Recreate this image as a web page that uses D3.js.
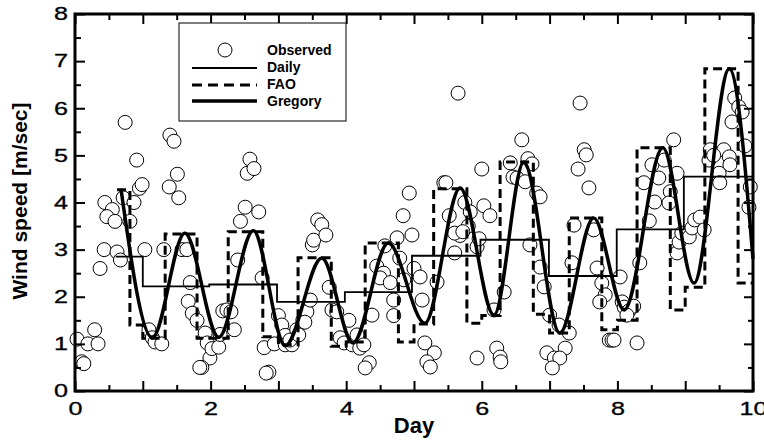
<!DOCTYPE html>
<html>
<head>
<meta charset="utf-8">
<script src="https://d3js.org/d3.v7.min.js"></script>
<style>
  body { margin: 0; background: #fff; }
  text { font-family: "Liberation Sans", Arial, sans-serif; }
</style>
</head>
<body>
<div id="graph"></div>
<script>
// Observed wind speed [day, m/sec]
var observed = [
  [0.03,1.10],[0.10,0.62],[0.13,0.58],[0.19,1.00],[0.29,1.30],[0.34,1.00],
  [0.37,2.60],[0.43,3.00],[0.62,2.95],[0.67,2.78],
  [0.44,4.00],[0.55,3.85],[0.47,3.70],[0.59,3.60],[0.71,4.10],[0.81,3.60],[0.87,4.00],[0.95,4.30],[0.99,4.38],[0.91,4.90],[0.74,5.70],
  [1.03,3.00],[1.31,3.00],[1.58,3.00],[1.65,3.00],[1.40,5.43],[1.46,5.30],[1.51,4.60],[1.39,4.33],[1.53,4.10],
  [1.09,1.30],[1.14,1.13],[1.18,1.04],[1.28,1.00],
  [1.70,2.30],[1.67,1.90],[1.73,1.65],[1.80,1.50],[1.92,1.23],[1.95,1.02],[1.99,0.70],[1.87,0.50],[1.84,0.50],
  [2.02,0.90],[2.12,0.93],[2.14,1.20],[2.18,1.70],[2.24,1.72],[2.30,1.68],[2.35,1.30],
  [2.40,2.78],[2.44,3.60],[2.51,3.90],[2.71,3.80],[2.54,4.62],[2.58,4.92],[2.64,4.72],
  [2.76,2.40],[2.79,0.92],[2.86,0.40],[2.82,0.38],[2.94,1.00],[3.00,1.60],
  [3.05,1.40],[3.10,1.18],[3.10,0.98],[3.20,0.98],[3.27,1.30],[3.17,1.08],[3.36,1.50],[3.42,1.68],[3.47,1.93],[3.50,3.10],[3.39,1.46],[3.30,1.19],
  [3.52,3.20],[3.58,3.63],[3.64,3.53],[3.70,3.31],
  [3.75,2.20],[3.79,1.72],[3.86,1.68],[3.91,1.13],[3.97,1.02],
  [4.04,1.50],[4.09,0.98],[4.16,1.19],[4.20,0.91],[4.26,0.98],[4.34,0.60],[4.28,0.49],[4.38,1.61],
  [4.45,2.65],[4.55,2.50],[4.50,2.40],[4.65,2.30],[4.57,3.08],
  [4.79,2.82],[4.70,1.93],[4.70,1.60],[4.85,2.36],[4.84,3.72],[4.93,4.20],[4.97,3.31],[4.75,3.25],
  [5.00,2.60],[5.09,2.42],[5.12,1.93],[5.34,2.31],
  [5.16,1.02],[5.30,0.81],[5.19,0.62],[5.24,0.51],
  [5.44,4.42],[5.47,4.42],[5.52,3.72],[5.60,2.93],[5.65,6.32],[5.68,3.30],[5.75,4.00],[5.80,3.50],[5.83,3.80],
  [5.93,3.06],[5.96,3.23],[5.93,0.70],[6.00,4.71],[5.60,3.35],[5.72,3.38],
  [6.03,3.93],[6.12,3.72],[6.18,1.72],[6.22,0.91],[6.27,0.72],[6.28,0.62],[6.33,2.10],
  [6.42,4.84],[6.59,5.33],[6.68,4.93],[6.74,4.82],[6.46,4.54],[6.52,4.52],[6.64,4.44],[6.81,4.20],[6.86,4.12],
  [6.71,3.10],[6.86,2.63],[6.92,2.21],
  [7.00,1.61],[7.14,1.40],[7.29,1.23],[7.23,0.91],[6.96,0.81],[7.07,0.70],[7.15,0.70],[7.04,0.49],
  [7.36,3.52],[7.65,3.42],[7.33,2.72],[7.70,2.61],[7.77,2.29],[7.82,2.04],[7.74,1.89],
  [7.45,6.11],[7.51,5.12],[7.54,5.01],[7.42,4.71],[7.58,4.31],
  [7.88,1.08],[7.92,1.08],[7.95,1.08],
  [8.04,2.42],[8.07,1.89],[8.10,1.78],[8.17,1.70],[8.24,1.80],[8.14,1.61],[8.29,1.02],[8.33,2.72],[8.47,3.61],
  [8.83,5.33],[8.51,4.80],[8.39,4.42],[8.61,4.52],[8.88,4.62],[8.78,4.23],[8.55,4.01],[8.76,3.99],[8.69,4.90],
  [8.88,2.93],[8.91,3.16],[8.95,3.35],
  [9.06,3.27],[9.10,3.46],[9.14,3.63],[9.22,3.69],[9.28,3.42],
  [9.73,6.22],[9.79,6.03],[9.84,5.92],[9.69,5.71],[9.88,5.20],[9.37,5.12],[9.57,5.12],[9.35,4.90],[9.42,5.00],
  [9.65,4.97],[9.66,4.80],[9.50,4.62],[9.51,4.42],[9.96,4.33],[9.94,3.90]
];

// Daily mean (step starts)
var dailyDay   = [0.60, 1.00, 1.98, 2.98, 3.98, 4.97, 5.98, 6.99, 7.99, 8.98, 10.0];
var dailySpeed = [2.85, 2.22, 2.26, 1.89, 2.10, 2.87, 3.21, 2.44, 3.43, 4.55, 4.55];

// FAO day/night steps
var faoDay   = [0.62, 0.81, 1.00, 1.33, 1.80, 2.26, 2.77, 3.00, 3.29, 3.78, 4.00, 4.28, 4.77, 5.00, 5.29, 5.78,
                6.00, 6.27, 6.76, 7.00, 7.29, 7.77, 8.00, 8.29, 8.78, 9.00, 9.29, 9.78, 10.0];
var faoSpeed = [4.27, 1.40, 1.12, 3.33, 1.12, 3.38, 1.15, 0.98, 2.83, 0.95, 1.04, 3.14, 1.04, 1.42, 4.29, 1.44,
                1.60, 4.86, 1.63, 1.23, 3.67, 1.30, 1.50, 5.16, 1.72, 2.20, 6.84, 2.29, 2.29];

// Gregory model - peaks and troughs
var gregoryDay   = [0.68, 1.14, 1.62, 2.12, 2.63, 3.10, 3.64, 4.10, 4.62, 5.16, 5.68, 6.18, 6.62, 7.15, 7.65, 8.10, 8.67, 9.13, 9.65, 10.0];
var gregorySpeed = [4.27, 1.13, 3.35, 1.14, 3.40, 0.96, 2.82, 1.02, 3.14, 1.44, 4.31, 1.61, 4.86, 1.23, 3.67, 1.72, 5.16, 2.29, 6.84, 2.80];

var xTicks = [0, 1, 2, 3, 4, 5, 6, 7, 8, 9, 10];
var xMinorTicks = d3.range(0.5, 10, 1);
var yTicks = [0, 1, 2, 3, 4, 5, 6, 7, 8];
var yMinorTicks = d3.range(0.5, 8, 1);
var legendLabels = ["Observed", "Daily", "FAO", "Gregory"];

const fullwidth = 764;
const fullheight = 441;
const plotLeft = 75, plotRight = 753, plotTop = 14, plotBottom = 391;

var xScale = d3.scaleLinear().domain([0, 10]).range([plotLeft, plotRight]);
var yScale = d3.scaleLinear().domain([0, 8]).range([plotBottom, plotTop]);

var svg = d3.select("#graph").append("svg")
  .attr("width", fullwidth)
  .attr("height", fullheight);

//Observed circles (under the lines)
svg.append("g")
  .selectAll("circle")
  .data(observed)
  .enter().append("circle")
    .attr("cx", d => xScale(d[0]))
    .attr("cy", d => yScale(d[1]))
    .attr("r", 7)
    .attr("fill", "white")
    .attr("stroke", "black")
    .attr("stroke-width", 1);

function zip(a, b) { return a.map((v, i) => [v, b[i]]); }

var stepLine = d3.line()
  .x(d => xScale(d[0]))
  .y(d => yScale(d[1]))
  .curve(d3.curveStepAfter);

var smoothLine = d3.line()
  .x(d => xScale(d[0]))
  .y(d => yScale(d[1]))
  .curve(d3.curveMonotoneX);

svg.append("path")
  .attr("d", stepLine(zip(dailyDay, dailySpeed)))
  .attr("fill", "none")
  .attr("stroke", "black")
  .attr("stroke-width", 1.8);

svg.append("path")
  .attr("d", stepLine(zip(faoDay, faoSpeed)))
  .attr("fill", "none")
  .attr("stroke", "black")
  .attr("stroke-width", 3)
  .attr("stroke-dasharray", "9,5");

svg.append("path")
  .attr("d", smoothLine(zip(gregoryDay, gregorySpeed)))
  .attr("fill", "none")
  .attr("stroke", "black")
  .attr("stroke-width", 3.5);

// Axes - ticks pointing inside on all four sides
function styleAxis(g) {
  g.select(".domain").remove();
  g.selectAll("line").attr("stroke", "black").attr("stroke-width", 2);
}

svg.append("g")
  .attr("transform", "translate(0," + plotBottom + ")")
  .call(d3.axisBottom(xScale).tickValues(xTicks).tickSize(-10).tickPadding(11)
    .tickFormat(d => d % 2 === 0 ? d : ""))
  .call(styleAxis);
svg.append("g")
  .attr("transform", "translate(0," + plotBottom + ")")
  .call(d3.axisBottom(xScale).tickValues(xMinorTicks).tickSize(-6).tickFormat(""))
  .call(styleAxis);
svg.append("g")
  .attr("transform", "translate(0," + plotTop + ")")
  .call(d3.axisTop(xScale).tickValues(xTicks).tickSize(-10).tickFormat(""))
  .call(styleAxis);
svg.append("g")
  .attr("transform", "translate(0," + plotTop + ")")
  .call(d3.axisTop(xScale).tickValues(xMinorTicks).tickSize(-6).tickFormat(""))
  .call(styleAxis);

svg.append("g")
  .attr("transform", "translate(" + plotLeft + ",0)")
  .call(d3.axisLeft(yScale).tickValues(yTicks).tickSize(-10).tickPadding(7))
  .call(styleAxis);
svg.append("g")
  .attr("transform", "translate(" + plotLeft + ",0)")
  .call(d3.axisLeft(yScale).tickValues(yMinorTicks).tickSize(-6).tickFormat(""))
  .call(styleAxis);
svg.append("g")
  .attr("transform", "translate(" + plotRight + ",0)")
  .call(d3.axisRight(yScale).tickValues(yTicks).tickSize(-9).tickFormat(""))
  .call(styleAxis);
svg.append("g")
  .attr("transform", "translate(" + plotRight + ",0)")
  .call(d3.axisRight(yScale).tickValues(yMinorTicks).tickSize(-5).tickFormat(""))
  .call(styleAxis);

// wide tick numbers like the original
svg.selectAll(".tick text")
  .attr("font-size", 18)
  .attr("font-family", "Liberation Sans, Arial, sans-serif")
  .attr("fill", "black")
  .attr("stroke", "black")
  .attr("stroke-width", 0.3)
  .each(function() {
    var t = d3.select(this).text();
    if (t) d3.select(this).attr("textLength", 14 * t.length).attr("lengthAdjust", "spacingAndGlyphs");
  });

// Frame
svg.append("rect")
  .attr("x", plotLeft).attr("y", plotTop)
  .attr("width", plotRight - plotLeft).attr("height", plotBottom - plotTop)
  .attr("fill", "none")
  .attr("stroke", "black")
  .attr("stroke-width", 3);

// Axis titles
svg.append("text")
  .attr("x", xScale(5)).attr("y", 433)
  .attr("text-anchor", "middle")
  .attr("font-size", 22).attr("font-weight", "bold")
  .text("Day");

svg.append("text")
  .attr("transform", "translate(27,201) rotate(-90)")
  .attr("text-anchor", "middle")
  .attr("font-size", 21).attr("font-weight", "bold")
  .text("Wind speed [m/sec]");

// Legend
var legend = svg.append("g").attr("class", "legend");
legend.append("rect")
  .attr("x", 179).attr("y", 23)
  .attr("width", 167).attr("height", 98)
  .attr("fill", "white")
  .attr("stroke", "black")
  .attr("stroke-width", 1);

legend.append("circle")
  .attr("cx", 225).attr("cy", 50).attr("r", 7)
  .attr("fill", "white").attr("stroke", "black").attr("stroke-width", 1);
legend.append("line")
  .attr("x1", 192).attr("x2", 257).attr("y1", 68).attr("y2", 68)
  .attr("stroke", "black").attr("stroke-width", 1.8);
legend.append("line")
  .attr("x1", 192).attr("x2", 257).attr("y1", 85).attr("y2", 85)
  .attr("stroke", "black").attr("stroke-width", 3).attr("stroke-dasharray", "10,6");
legend.append("line")
  .attr("x1", 192).attr("x2", 257).attr("y1", 101).attr("y2", 101)
  .attr("stroke", "black").attr("stroke-width", 3.5);

for (var j = 0; j < legendLabels.length; ++j) {
  legend.append("text")
    .attr("x", 267)
    .attr("y", 55 + j * 17)
    .attr("font-size", 14).attr("font-weight", "bold")
    .text(legendLabels[j]);
}
</script>
</body>
</html>
